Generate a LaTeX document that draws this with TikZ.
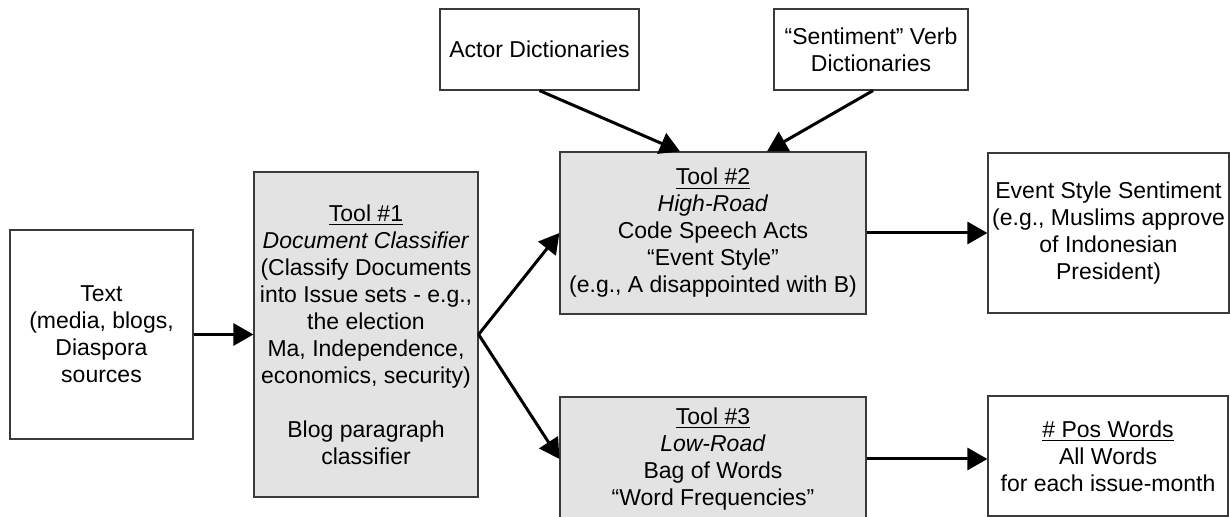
\documentclass[tikz,border=0pt]{standalone}
\usepackage{fontspec}
\setmainfont{Liberation Sans}
\usepackage{tikz}
\usetikzlibrary{arrows.meta,positioning}
\definecolor{toolgray}{HTML}{E3E3E3}
\definecolor{edgegray}{HTML}{3A3A3A}

\begin{document}
\begin{tikzpicture}[x=0.5pt,y=-0.5pt,
        box/.style={draw=edgegray, line width=0.6pt, inner sep=0pt, align=center,
            font=\fontsize{11.5}{13.5}\selectfont},
        toolbox/.style={box, fill=toolgray},
        link/.style={line width=1.5pt, -{Triangle[length=10pt,width=11pt]}}]
        \useasboundingbox (0,0) rectangle (1230,517);
        \clip (0,0) rectangle (1230,517);
        \node[box, minimum width=91.5pt, minimum height=104.5pt] (text) at (101.5,334.5)
            {Text\\(media, blogs,\\Diaspora\\sources};
        \node[toolbox, minimum width=112pt, minimum height=162.5pt] (tool1) at (366,334.5)
            {\underline{Tool \#1}\\\textit{Document Classifier}\\(Classify Documents\\into Issue sets - e.g.,\\the election\\Ma, Independence,\\economics, security)\\[13.5pt]Blog paragraph\\classifier};
        \node[box, minimum width=99.5pt, minimum height=40.5pt] (actor) at (539.5,49.5)
            {Actor Dictionaries};
        \node[box, minimum width=97pt, minimum height=40.5pt] (verbs) at (871,49.5)
            {“Sentiment” Verb\\Dictionaries};
        \node[toolbox, minimum width=153pt, minimum height=81pt] (tool2) at (713,233)
            {\underline{Tool \#2}\\\textit{High-Road}\\Code Speech Acts\\“Event Style”\\(e.g., A disappointed with B)};
        \node[box, minimum width=120.5pt, minimum height=80pt] (event) at (1108.5,233)
            {Event Style Sentiment\\(e.g., Muslims approve\\of Indonesian\\President)};
        \node[toolbox, minimum width=153pt, minimum height=62pt] (tool3) at (713,459)
            {\underline{Tool \#3}\\\textit{Low-Road}\\Bag of Words\\“Word Frequencies”};
        \node[box, minimum width=120pt, minimum height=60pt] (pos) at (1108,456)
            {\underline{\# Pos Words}\\All Words\\for each issue-month};

        \draw[link] (text.east) -- (tool1.west);
        \draw[link] (tool1.east) -- (tool2.west);
        \draw[link] (tool1.east) -- (tool3.west);
        \draw[link] (actor.south) -- ([xshift=-16.5pt]tool2.north);
        \draw[link] ([xshift=1pt]verbs.south) -- ([xshift=27pt]tool2.north);
        \draw[link] (tool2.east) -- (event.west);
        \draw[link] (tool3.east) -- (tool3.east -| pos.west);
    \end{tikzpicture}
\end{document}
